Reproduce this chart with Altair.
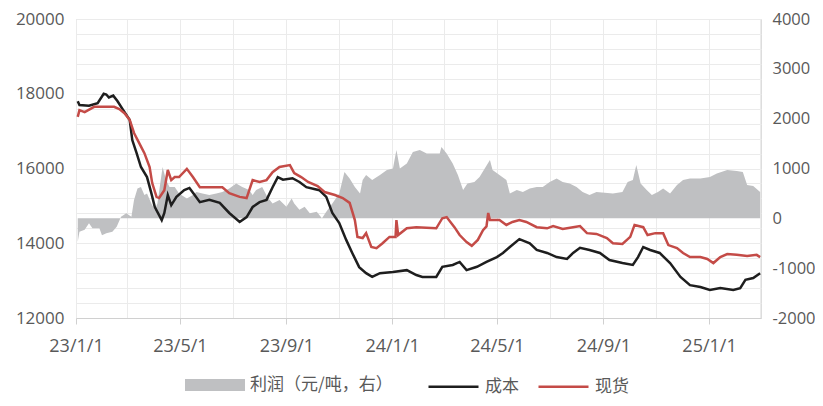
import altair as alt
import pandas as pd

# ---- data ----
cost_dates = [
    "2023-01-03", "2023-01-05", "2023-01-16", "2023-01-26", "2023-02-02", "2023-02-05", "2023-02-08",
    "2023-02-13", "2023-02-18", "2023-02-24", "2023-03-04", "2023-03-07", "2023-03-12", "2023-03-17",
    "2023-03-24", "2023-03-29", "2023-04-02", "2023-04-10", "2023-04-13", "2023-04-17", "2023-04-21",
    "2023-04-27", "2023-05-06", "2023-05-12", "2023-05-18", "2023-05-24", "2023-06-04", "2023-06-16",
    "2023-06-27", "2023-07-09", "2023-07-17", "2023-07-24", "2023-08-01", "2023-08-09", "2023-08-16",
    "2023-08-22", "2023-08-28", "2023-09-08", "2023-09-16", "2023-09-24", "2023-10-09", "2023-10-17",
    "2023-10-24", "2023-11-01", "2023-11-09", "2023-11-16", "2023-11-24", "2023-12-02", "2023-12-09",
    "2023-12-18", "2024-01-02", "2024-01-18", "2024-01-29", "2024-02-05", "2024-02-21", "2024-02-28",
    "2024-03-11", "2024-03-19", "2024-03-27", "2024-04-08", "2024-04-19", "2024-05-01", "2024-05-08",
    "2024-05-16", "2024-05-27", "2024-06-08", "2024-06-16", "2024-06-28", "2024-07-09", "2024-07-21",
    "2024-07-28", "2024-08-05", "2024-08-16", "2024-08-28", "2024-09-08", "2024-09-23", "2024-10-05",
    "2024-10-11", "2024-10-17", "2024-10-25", "2024-11-05", "2024-11-17", "2024-11-29", "2024-12-10",
    "2024-12-22", "2025-01-02", "2025-01-14", "2025-01-29", "2025-02-06", "2025-02-12", "2025-02-21",
    "2025-03-01",
]
cost_values = [
    17800, 17700, 17680, 17750, 18000, 17980, 17900,
    17950, 17800, 17580, 17300, 16760, 16410, 16040,
    15770, 15340, 14970, 14620, 14810, 15290, 15020,
    15240, 15420, 15480, 15290, 15100, 15160, 15080,
    14810, 14570, 14700, 14970, 15100, 15160, 15500,
    15770, 15700, 15740, 15640, 15500, 15420, 15240,
    14810, 14540, 14090, 13740, 13360, 13200, 13100,
    13200, 13230, 13280, 13150, 13100, 13100, 13370,
    13420, 13500, 13280, 13370, 13500, 13630, 13740,
    13900, 14110, 14000, 13820, 13740, 13630, 13580,
    13740, 13880, 13820, 13740, 13550, 13470, 13420,
    13630, 13900, 13820, 13740, 13470, 13100, 12880,
    12830, 12750, 12800, 12750, 12800, 13020, 13070,
    13200,
]

spot_dates = [
    "2023-01-03", "2023-01-05", "2023-01-11", "2023-01-22", "2023-02-14", "2023-02-20", "2023-02-26",
    "2023-03-04", "2023-03-09", "2023-03-15", "2023-03-21", "2023-03-27", "2023-03-30", "2023-04-04",
    "2023-04-07", "2023-04-13", "2023-04-17", "2023-04-21", "2023-04-25", "2023-04-30", "2023-05-09",
    "2023-05-16", "2023-05-24", "2023-06-19", "2023-06-27", "2023-07-09", "2023-07-17", "2023-07-24",
    "2023-08-01", "2023-08-09", "2023-08-16", "2023-08-24", "2023-09-05", "2023-09-10", "2023-09-18",
    "2023-09-26", "2023-10-07", "2023-10-15", "2023-10-27", "2023-11-05", "2023-11-13", "2023-11-19",
    "2023-11-22", "2023-11-28", "2023-12-02", "2023-12-08", "2023-12-14", "2023-12-21", "2023-12-29",
    "2024-01-05", "2024-01-06", "2024-01-08", "2024-01-18", "2024-01-29", "2024-02-21", "2024-02-28",
    "2024-03-04", "2024-03-13", "2024-03-19", "2024-03-27", "2024-04-02", "2024-04-09", "2024-04-15",
    "2024-04-19", "2024-04-21", "2024-04-23", "2024-05-04", "2024-05-12", "2024-05-19", "2024-05-27",
    "2024-06-04", "2024-06-16", "2024-06-28", "2024-07-05", "2024-07-16", "2024-07-28", "2024-08-05",
    "2024-08-13", "2024-08-24", "2024-09-05", "2024-09-12", "2024-09-23", "2024-10-02", "2024-10-07",
    "2024-10-17", "2024-10-22", "2024-10-31", "2024-11-09", "2024-11-15", "2024-11-25", "2024-12-02",
    "2024-12-10", "2024-12-22", "2024-12-30", "2025-01-06", "2025-01-14", "2025-01-22", "2025-02-02",
    "2025-02-14", "2025-02-25", "2025-03-01",
]
spot_values = [
    17380, 17560, 17510, 17650, 17650, 17590, 17480,
    17300, 16950, 16680, 16410, 16040, 15610, 15240,
    15210, 15420, 15960, 15690, 15770, 15770, 15990,
    15770, 15500, 15500, 15340, 15240, 15210, 15690,
    15640, 15690, 15900, 16040, 16090, 15880, 15770,
    15640, 15530, 15370, 15290, 15210, 15080, 14620,
    14170, 14140, 14270, 13900, 13870, 14000, 14170,
    14170, 14620, 14220, 14400, 14430, 14400, 14670,
    14700, 14430, 14220, 14030, 13930, 14090, 14350,
    14450, 14810, 14620, 14620, 14490, 14570, 14620,
    14570, 14430, 14400, 14460, 14380, 14430, 14460,
    14270, 14250, 14140, 14000, 13980, 14170, 14490,
    14430, 14220, 14270, 14270, 13950, 13870, 13740,
    13630, 13630, 13580, 13470, 13630, 13710, 13690,
    13660, 13690, 13630,
]

profit_dates = [
    "2023-01-03", "2023-01-05", "2023-01-11", "2023-01-16", "2023-01-20", "2023-01-28", "2023-01-31",
    "2023-02-05", "2023-02-12", "2023-02-17", "2023-02-22", "2023-02-28", "2023-03-06", "2023-03-09",
    "2023-03-13", "2023-03-17", "2023-03-21", "2023-03-24", "2023-03-29", "2023-04-02", "2023-04-05",
    "2023-04-11", "2023-04-15", "2023-04-19", "2023-04-25", "2023-04-30", "2023-05-09", "2023-05-16",
    "2023-05-20", "2023-05-27", "2023-06-04", "2023-06-12", "2023-06-19", "2023-06-27", "2023-07-05",
    "2023-07-12", "2023-07-20", "2023-07-24", "2023-07-28", "2023-08-04", "2023-08-10", "2023-08-16",
    "2023-08-24", "2023-09-01", "2023-09-07", "2023-09-10", "2023-09-16", "2023-09-22", "2023-09-28",
    "2023-10-06", "2023-10-12", "2023-10-17", "2023-10-24", "2023-11-01", "2023-11-07", "2023-11-13",
    "2023-11-19", "2023-11-25", "2023-11-28", "2023-12-02", "2023-12-09", "2023-12-18", "2023-12-26",
    "2024-01-02", "2024-01-06", "2024-01-10", "2024-01-18", "2024-01-25", "2024-02-02", "2024-02-10",
    "2024-02-25", "2024-02-27", "2024-03-04", "2024-03-11", "2024-03-17", "2024-03-23", "2024-03-28",
    "2024-04-05", "2024-04-11", "2024-04-17", "2024-04-23", "2024-04-26", "2024-05-04", "2024-05-12",
    "2024-05-16", "2024-05-24", "2024-05-31", "2024-06-08", "2024-06-16", "2024-06-23", "2024-07-01",
    "2024-07-09", "2024-07-16", "2024-07-24", "2024-08-01", "2024-08-08", "2024-08-16", "2024-08-24",
    "2024-09-12", "2024-09-23", "2024-09-29", "2024-10-05", "2024-10-09", "2024-10-14", "2024-10-21",
    "2024-10-27", "2024-11-03", "2024-11-09", "2024-11-17", "2024-11-25", "2024-12-02", "2024-12-10",
    "2024-12-22", "2025-01-02", "2025-01-10", "2025-01-22", "2025-02-02", "2025-02-09", "2025-02-14",
    "2025-02-21", "2025-03-01",
]
profit_values = [
    -470, -270, -230, -100, -200, -200, -340,
    -300, -270, -170, 30, 100, 30, 370,
    600, 630, 470, 500, 300, 170, 300,
    1030, 770, 630, 630, 500, 400, 470,
    530, 500, 470, 500, 530, 600, 700,
    630, 570, 470, 570, 630, 430, 300,
    370, 230, 400, 300, 170, 230, 100,
    130, 0, 130, 300, 500, 930, 800,
    630, 500, 770, 870, 770, 870, 970,
    1000, 1370, 1000, 1100, 1330, 1370, 1300,
    1300, 1430, 1300, 1100, 870, 570, 700,
    730, 830, 1000, 1170, 970, 870, 770,
    500, 570, 530, 600, 630, 630, 730,
    800, 730, 700, 630, 530, 470, 530,
    500, 530, 730, 770, 1070, 700, 570,
    470, 530, 600, 500, 670, 770, 800,
    800, 830, 900, 970, 950, 930, 670,
    650, 530,
]

profit_name = "利润（元/吨，右）"
line_names = ["成本", "现货"]
x_tick_months = [
    (2023, 1), (2023, 3), (2023, 5), (2023, 7), (2023, 9), (2023, 11),
    (2024, 1), (2024, 3), (2024, 5), (2024, 7), (2024, 9), (2024, 11),
    (2025, 1), (2025, 3),
]

# ---- tables ----
profit_df = pd.DataFrame({"date": profit_dates, "value": profit_values, "series": profit_name})
lines_df = pd.concat([
    pd.DataFrame({"date": cost_dates, "value": cost_values, "series": line_names[0]}),
    pd.DataFrame({"date": spot_dates, "value": spot_values, "series": line_names[1]}),
])

FONT = "Open Sans"
CJK = "Noto Sans CJK SC"
TXT = "#595959"

x_values = [alt.DateTime(year=y, month=m, date=1) for y, m in x_tick_months]
x_enc = alt.X(
    "date:T",
    scale=alt.Scale(domain=[alt.DateTime(year=2023, month=1, date=1),
                            alt.DateTime(year=2025, month=3, date=2)]),
    axis=alt.Axis(
        title=None, values=x_values, grid=True, gridColor="#EBEBEB",
        labelExpr="month(datum.value) % 4 == 0 ? timeFormat(datum.value, '%y/%-m/%-d') : ''",
        tickOpacity={"condition": {"test": "month(datum.value) % 4 == 0", "value": 1}, "value": 0},
        tickSize=6, tickColor="#D0D0D0", domainColor="#D0D0D0",
        labelFont=FONT, labelFontSize=18, labelColor=TXT, labelPadding=13,
        labelOverlap=False, labelFlush=False,
    ),
)

area = alt.Chart(profit_df).mark_area(interpolate="linear").encode(
    x=x_enc,
    y=alt.Y("value:Q",
            scale=alt.Scale(domain=[-2000, 4000], nice=False, zero=False),
            axis=alt.Axis(orient="right", title=None, values=list(range(-2000, 4001, 1000)),
                          labelExpr="'' + datum.value",
                          grid=False, ticks=False, domain=False,
                          labelFont=FONT, labelFontSize=16.5, labelColor=TXT, labelPadding=11)),
    y2=alt.datum(0),
    fill=alt.Fill("series:N",
                  scale=alt.Scale(domain=[profit_name], range=["#BFC0C2"]),
                  legend=alt.Legend(title=None, orient="none", legendX=109, legendY=336,
                                    symbolType="M-1,-0.2H1V0.2H-1Z", symbolSize=3600,
                                    symbolStrokeWidth=0, symbolOpacity=1,
                                    labelFont=CJK, labelFontSize=17, labelColor=TXT,
                                    labelOffset=5)),
)

lines = alt.Chart(lines_df).mark_line(strokeWidth=2.5).encode(
    x=x_enc,
    y=alt.Y("value:Q",
            scale=alt.Scale(domain=[12000, 20000], nice=False, zero=False),
            axis=alt.Axis(orient="left", title=None, values=list(range(12000, 20001, 400)),
                          labelExpr="datum.value % 2000 == 0 ? '' + datum.value : ''",
                          grid=True, gridColor="#EBEBEB", ticks=False, domain=False,
                          labelFont=FONT, labelFontSize=17, labelColor=TXT, labelPadding=12)),
    stroke=alt.Stroke("series:N",
                      scale=alt.Scale(domain=line_names, range=["#1E1E1E", "#C44B47"]),
                      legend=alt.Legend(title=None, orient="none", legendX=351, legendY=341,
                                        direction="horizontal", symbolType="stroke",
                                        symbolSize=2500, symbolStrokeWidth=2.5,
                                        columnPadding=14, labelOffset=5,
                                        labelFont=CJK, labelFontSize=17, labelColor=TXT)),
    detail="series:N",
)

chart = alt.layer(area, lines).resolve_scale(y="independent").properties(
    width=685, height=299,
    autosize=alt.AutoSizeParams(type="none"),
    padding={"left": 68, "top": 11, "right": 54, "bottom": 79},
).configure_view(stroke="#EBEBEB").configure(background="white")

chart.save("out.html", embed_options={"renderer": "svg", "actions": False})
